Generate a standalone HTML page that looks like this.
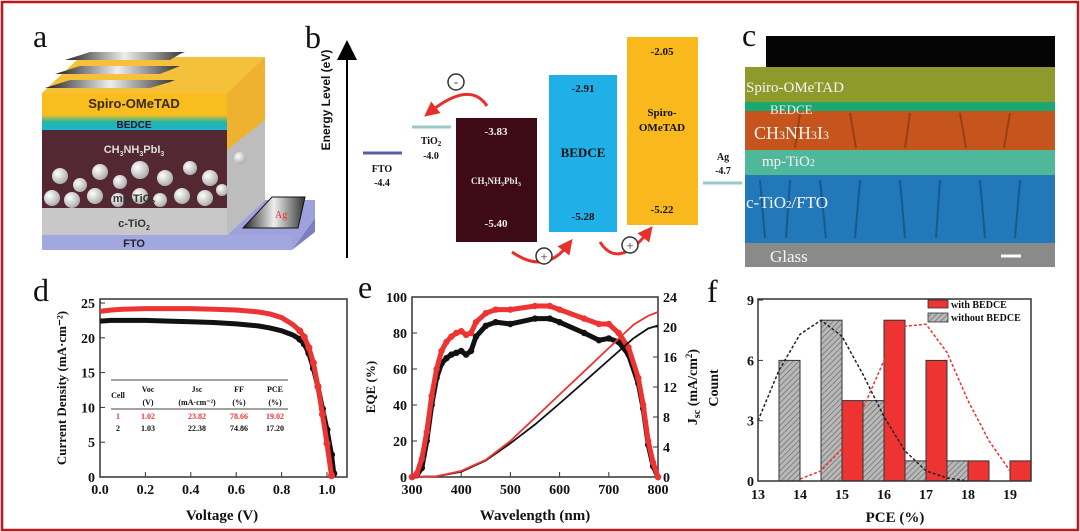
<!DOCTYPE html>
<html><head><meta charset="utf-8"><style>
html,body{margin:0;padding:0;background:#fff;width:1080px;height:532px;overflow:hidden}
svg{display:block}
.t{font-family:"Liberation Serif",serif;font-weight:bold;fill:#111}
.s{font-family:"Liberation Sans",sans-serif;font-weight:bold}
.w{fill:#eee}
</style></head><body>
<svg id="fig" width="1080" height="532" viewBox="0 0 1080 532" xmlns="http://www.w3.org/2000/svg">
<defs>
<pattern id="hatch" width="4" height="4" patternUnits="userSpaceOnUse" patternTransform="rotate(45)"><rect width="4" height="4" fill="#b8b8b8"/><line x1="0" y1="0" x2="0" y2="4" stroke="#666" stroke-width="1.3"/></pattern>
<radialGradient id="ball" cx="0.35" cy="0.35" r="0.7"><stop offset="0" stop-color="#fff"/><stop offset="1" stop-color="#aaa"/></radialGradient>
<linearGradient id="elec" x1="0" x2="1"><stop offset="0" stop-color="#222"/><stop offset="0.5" stop-color="#eee"/><stop offset="1" stop-color="#333"/></linearGradient>
<linearGradient id="bedce" x1="0" y1="0" x2="0" y2="1"><stop offset="0" stop-color="#f5c020"/><stop offset="0.45" stop-color="#2ab5a0"/><stop offset="1" stop-color="#14b8d8"/></linearGradient>
<marker id="ah" markerWidth="5" markerHeight="5" refX="2.5" refY="2.5" orient="auto"><path d="M0,0 L5,2.5 L0,5 z" fill="#e8302a"/></marker>
<marker id="ahk" markerWidth="10" markerHeight="10" refX="5" refY="5" orient="auto"><path d="M0,0 L10,5 L0,10 z" fill="#000"/></marker>
</defs>
<rect x="2" y="2" width="1076" height="528" fill="#fff" stroke="#c0161c" stroke-width="2.5"/>

<!-- Panel a -->
<g>
<text x="33" y="47" class="t" style="font-weight:normal;font-size:32px">a</text>
<polygon points="42,235 227,235 265,200 315,200 315,218 292,250 42,250" fill="#9ea2dc"/>
<rect x="42" y="235" width="250" height="15" fill="#a3a7e0"/>
<polygon points="292,250 315,218 315,232 292,250" fill="#7b7fc0"/>
<polygon points="227,93 265,57 265,200 227,235" fill="#bdbdbd"/>
<polygon points="227,93 265,57 265,120 227,150" fill="#efb130"/>
<polygon points="42,93 80,57 265,57 227,93" fill="#f6c13a"/>
<rect x="42" y="93" width="185" height="22" fill="#f9bd1d"/>
<rect x="42" y="115" width="185" height="15" fill="url(#bedce)"/>
<rect x="42" y="130" width="185" height="78" fill="#532832"/>
<rect x="42" y="208" width="185" height="27" fill="#c8c8c8"/>
<g fill="url(#ball)">
<circle cx="60" cy="176" r="8"/><circle cx="80" cy="185" r="7"/><circle cx="100" cy="172" r="8"/><circle cx="120" cy="182" r="7"/><circle cx="140" cy="170" r="9"/><circle cx="165" cy="178" r="8"/><circle cx="190" cy="168" r="7"/><circle cx="210" cy="178" r="8"/><circle cx="240" cy="158" r="6"/>
<circle cx="52" cy="198" r="8"/><circle cx="72" cy="200" r="8"/><circle cx="95" cy="196" r="8"/><circle cx="118" cy="200" r="7"/><circle cx="140" cy="196" r="8"/><circle cx="160" cy="200" r="7"/><circle cx="182" cy="196" r="8"/><circle cx="205" cy="198" r="8"/><circle cx="222" cy="190" r="6"/>
</g>
<polygon points="45,88 150,88 170,82 175,80 70,80" fill="url(#elec)"/>
<polygon points="55,74 160,74 175,68 180,66 80,66" fill="url(#elec)"/>
<polygon points="65,60 170,60 180,54 185,52 90,52" fill="url(#elec)"/>
<polygon points="243,228 298,228 305,197 272,197" fill="url(#elec)" stroke="#111"/>
<text x="275" y="218" font-family="Liberation Serif" font-size="10" fill="#e33">Ag</text>
<text x="134" y="108" text-anchor="middle" class="s" font-size="13" fill="#3a2a10">Spiro-OMeTAD</text>
<text x="134" y="128" text-anchor="middle" class="s" font-size="10" fill="#213">BEDCE</text>
<text x="134" y="153" text-anchor="middle" class="s" font-size="11" fill="#ddd">CH<tspan font-size="7" dy="3">3</tspan><tspan dy="-3">NH</tspan><tspan font-size="7" dy="3">3</tspan><tspan dy="-3">PbI</tspan><tspan font-size="7" dy="3">3</tspan></text>
<text x="134" y="202" text-anchor="middle" class="s" font-size="11" fill="#333">mp-TiO<tspan font-size="7" dy="3">2</tspan></text>
<text x="134" y="227" text-anchor="middle" class="s" font-size="11" fill="#333">c-TiO<tspan font-size="7" dy="3">2</tspan></text>
<text x="134" y="247" text-anchor="middle" class="s" font-size="11" fill="#223">FTO</text>
</g>

<!-- Panel b -->
<g>
<text x="305" y="48" class="t" style="font-weight:normal;font-size:32px">b</text>
<line x1="347" y1="258" x2="347" y2="50" stroke="#000" stroke-width="2" marker-end="url(#ahk)"/>
<text transform="translate(330,100) rotate(-90)" text-anchor="middle" class="s" font-size="12" fill="#111">Energy Level (eV)</text>
<line x1="363" y1="153" x2="402" y2="153" stroke="#5b5ea6" stroke-width="3"/>
<text x="382" y="172" text-anchor="middle" class="t" font-size="10">FTO</text><text x="382" y="186" text-anchor="middle" class="t" font-size="10">-4.4</text>
<line x1="412" y1="127" x2="451" y2="127" stroke="#9cc7c7" stroke-width="3"/>
<text x="431" y="144" text-anchor="middle" class="t" font-size="10">TiO<tspan font-size="7" dy="2">2</tspan></text><text x="431" y="159" text-anchor="middle" class="t" font-size="10">-4.0</text>
<rect x="456" y="118" width="81" height="124" fill="#3d0a15"/>
<text x="496" y="135" text-anchor="middle" class="t w" font-size="11">-3.83</text>
<text x="496" y="184" text-anchor="middle" class="t w" font-size="9">CH<tspan font-size="6" dy="2">3</tspan><tspan dy="-2">NH</tspan><tspan font-size="6" dy="2">3</tspan><tspan dy="-2">PbI</tspan><tspan font-size="6" dy="2">3</tspan></text>
<text x="496" y="227" text-anchor="middle" class="t w" font-size="11">-5.40</text>
<rect x="549" y="75" width="68" height="157" fill="#1fb0e8"/>
<text x="583" y="92" text-anchor="middle" class="t" font-size="11">-2.91</text>
<text x="583" y="157" text-anchor="middle" class="t" font-size="13" fill="#132">BEDCE</text>
<text x="583" y="220" text-anchor="middle" class="t" font-size="11">-5.28</text>
<rect x="627" y="37" width="71" height="188" fill="#f9b81b"/>
<text x="662" y="55" text-anchor="middle" class="t" font-size="11">-2.05</text>
<text x="662" y="116" text-anchor="middle" class="t" font-size="11">Spiro-</text><text x="662" y="131" text-anchor="middle" class="t" font-size="11">OMeTAD</text>
<text x="662" y="213" text-anchor="middle" class="t" font-size="11">-5.22</text>
<line x1="703" y1="183" x2="742" y2="183" stroke="#9cc7c7" stroke-width="3"/>
<text x="723" y="160" text-anchor="middle" class="t" font-size="10">Ag</text><text x="723" y="174" text-anchor="middle" class="t" font-size="10">-4.7</text>
<path d="M487,106 Q470,80 430,112" fill="none" stroke="#e8302a" stroke-width="3" marker-end="url(#ah)"/>
<circle cx="456" cy="82" r="8" fill="#fff" stroke="#333" stroke-width="1.5"/><text x="456" y="86" text-anchor="middle" font-size="12" font-weight="bold" fill="#333">-</text>
<path d="M512,252 Q545,275 568,245" fill="none" stroke="#e8302a" stroke-width="3" marker-end="url(#ah)"/>
<circle cx="544" cy="256" r="8" fill="#fff" stroke="#333" stroke-width="1.5"/><text x="544" y="261" text-anchor="middle" font-size="13" fill="#333">+</text>
<path d="M600,242 Q618,270 648,232" fill="none" stroke="#e8302a" stroke-width="3" marker-end="url(#ah)"/>
<circle cx="630" cy="245" r="8" fill="#fff" stroke="#333" stroke-width="1.5"/><text x="630" y="250" text-anchor="middle" font-size="13" fill="#333">+</text>
</g>

<!-- Panel c -->
<g>
<rect x="766" y="36" width="289" height="31" fill="#050505"/>
<rect x="745" y="67" width="310" height="37" fill="#8f9a2c"/>
<rect x="745" y="102" width="310" height="9" fill="#1ba870"/>
<rect x="745" y="111" width="310" height="40" fill="#c5551c"/>
<rect x="745" y="150" width="310" height="26" fill="#4fb89a"/>
<rect x="745" y="175" width="310" height="68" fill="#2278b8"/>
<rect x="745" y="243" width="310" height="24" fill="#8a8a8a"/>
<g stroke="#0d3e6a" stroke-width="2" opacity="0.5"><line x1="760" y1="180" x2="765" y2="238"/><line x1="790" y1="180" x2="786" y2="238"/><line x1="820" y1="180" x2="826" y2="238"/><line x1="860" y1="180" x2="855" y2="238"/><line x1="900" y1="180" x2="905" y2="238"/><line x1="940" y1="180" x2="936" y2="238"/><line x1="980" y1="180" x2="985" y2="238"/><line x1="1020" y1="180" x2="1015" y2="238"/></g>
<g stroke="#6a2a0a" stroke-width="2" opacity="0.5"><line x1="800" y1="113" x2="795" y2="148"/><line x1="850" y1="113" x2="856" y2="148"/><line x1="910" y1="113" x2="905" y2="148"/><line x1="960" y1="113" x2="966" y2="148"/><line x1="1010" y1="113" x2="1004" y2="148"/></g>
<g font-family="Liberation Serif" fill="#f4f4f4">
<text x="746" y="92" font-size="15">Spiro-OMeTAD</text>
<text x="770" y="114" font-size="13">BEDCE</text>
<text x="754" y="139" font-size="18">CH<tspan font-size="12">3</tspan>NH<tspan font-size="12">3</tspan>I<tspan font-size="12">3</tspan></text>
<text x="762" y="166" font-size="15">mp-TiO<tspan font-size="10">2</tspan></text>
<text x="746" y="208" font-size="17">c-TiO<tspan font-size="11">2</tspan>/FTO</text>
<text x="770" y="262" font-size="17">Glass</text>
</g>
<line x1="1001" y1="256" x2="1021" y2="256" stroke="#fff" stroke-width="3"/>
<text x="742" y="46" class="t" style="font-weight:normal;font-size:32px">c</text>
</g>

<text x="33" y="301" class="t" style="font-weight:normal;font-size:32px">d</text>
<text x="358" y="298" class="t" style="font-weight:normal;font-size:32px">e</text>
<text x="707" y="302" class="t" style="font-weight:normal;font-size:32px">f</text>
<g id="pd"></g>
<g id="pe"></g>
<g id="pf"></g>
</svg>
<script>
// Panel d data
const dV = [0,0.05,0.1,0.2,0.3,0.4,0.5,0.6,0.7,0.75,0.8,0.85,0.88,0.9,0.92,0.94,0.96,0.98,1.0,1.02];
const dJRed = [23.8,24.0,24.1,24.2,24.2,24.2,24.1,24.0,23.7,23.4,22.9,21.9,21.0,20.1,18.6,16.4,13.0,9.0,4.8,0.2];
const dVBlk = [0,0.05,0.1,0.2,0.3,0.4,0.5,0.6,0.7,0.75,0.8,0.85,0.88,0.9,0.92,0.94,0.96,0.98,1.0,1.02,1.03];
const dJBlk = [22.4,22.5,22.5,22.5,22.4,22.3,22.2,22.0,21.7,21.4,21.0,20.4,19.8,19.1,17.8,15.6,13.0,9.8,6.8,3.2,0.5];
const dXTicks = [0,0.2,0.4,0.6,0.8,1.0];
const dXLabels = ["0.0","0.2","0.4","0.6","0.8","1.0"];
const dYTicks = [0,5,10,15,20,25];
// Panel e data
const eW = [300,310,320,330,340,350,360,370,380,390,400,410,420,430,450,470,500,550,580,600,650,680,700,720,740,760,770,780,790,800];
const eRed = [0,2,10,25,45,60,70,75,78,80,81,79,80,86,91,93,93,95,95,93,88,85,85,80,72,55,40,20,8,0];
const eBlk = [0,1,5,20,40,55,63,66,68,69,70,68,70,78,84,86,85,88,88,86,80,76,77,75,68,52,38,18,6,0];
const eJW = [300,350,400,450,500,550,600,650,700,750,780,800];
const eJRed = [0,0.1,0.8,2.3,4.8,7.9,11.0,14.1,17.2,20.3,21.5,22.0];
const eJBlk = [0,0.1,0.7,2.2,4.5,7.0,9.8,12.7,15.6,18.5,19.8,20.2];
const eXTicks = [300,400,500,600,700,800];
const eYTicks = [0,20,40,60,80,100];
const eY2Ticks = [0,4,8,12,16,20,24];
// Panel f data
const fBinsWithout = [13.5,14.5,15.5,16.5,17.5];
const fCountWithout = [6,8,4,1,1];
const fBinsWith = [15,16,17,18,19];
const fCountWith = [4,8,6,1,1];
const fFitXBlk = [13,13.5,14,14.5,15,15.5,16,16.5,17,17.5,18];
const fFitYBlk = [3,5.5,7.3,8,7.2,5.3,3.2,1.5,0.5,0.15,0];
const fFitXRed = [14,14.5,15,15.5,16,16.5,17,17.5,18,18.5,19];
const fFitYRed = [0.1,0.5,1.6,3.6,6.0,7.7,7.8,6.4,4.0,2.0,0.5];
const fXTicks = [13,14,15,16,17,18,19];
const fYTicks = [0,3,6,9];

const NS="http://www.w3.org/2000/svg";
function mk(parent,tag,attrs,text){const e=document.createElementNS(NS,tag);for(const k in attrs)e.setAttribute(k,attrs[k]);if(text!==undefined)e.textContent=text;parent.appendChild(e);return e;}
function pts(xs,ys,fx,fy){return xs.map((x,i)=>fx(x).toFixed(1)+","+fy(ys[i]).toFixed(1)).join(" ");}

// ---- Panel d
const xD=v=>100+v*227, yD=j=>477-j*6.96;
const gd=document.getElementById('pd');
let el;
el=mk(gd,'rect',{x:100,y:299,width:247,height:178,fill:'none',stroke:'#333','stroke-width':1.5});


dXTicks.forEach((t,i)=>{mk(gd,'line',{x1:xD(t),x2:xD(t),y1:477,y2:472,stroke:'#333'});
 el=mk(gd,'text',{x:xD(t),y:494,'text-anchor':'middle',class:'t','font-size':14},dXLabels[i]);
 
 });
dYTicks.forEach(t=>{mk(gd,'line',{x1:100,x2:105,y1:yD(t),y2:yD(t),stroke:'#333'});
 el=mk(gd,'text',{x:95,y:yD(t)+5,'text-anchor':'end',class:'t','font-size':14},t);
 
 });
el=mk(gd,'text',{x:222,y:520,'text-anchor':'middle',class:'t','font-size':15},'Voltage (V)');


el=mk(gd,'text',{transform:'translate(66,388) rotate(-90)','text-anchor':'middle',class:'t','font-size':13},'Current Density (mA·cm⁻²)');


el=mk(gd,'polyline',{points:pts(dVBlk,dJBlk,xD,yD),fill:'none',stroke:'#111','stroke-width':5});


dVBlk.forEach((v,i)=>{if(v>0.85){el=mk(gd,'circle',{cx:xD(v),cy:yD(dJBlk[i]),r:3.5,fill:'#111'});
 
 }});
el=mk(gd,'polyline',{points:pts(dV,dJRed,xD,yD),fill:'none',stroke:'#ee3333','stroke-width':5});


dV.forEach((v,i)=>{if(v>0.85){el=mk(gd,'circle',{cx:xD(v),cy:yD(dJRed[i]),r:3.5,fill:'#ee3333'});
 
 }});
// table
const tb=mk(gd,'g',{});


mk(tb,'line',{x1:111,x2:288,y1:380,y2:380,stroke:'#444','stroke-width':1});
mk(tb,'line',{x1:111,x2:288,y1:409,y2:409,stroke:'#444','stroke-width':1});
const tcols=[118,148,197,239,275];
[['Cell',398],['Voc',392],['Jsc',392],['FF',392],['PCE',392]].forEach((h,i)=>mk(tb,'text',{x:tcols[i],y:h[1],'text-anchor':'middle',class:'t','font-size':8},h[0]));
['(V)','(mA·cm⁻²)','(%)','(%)'].forEach((h,i)=>mk(tb,'text',{x:tcols[i+1],y:405,'text-anchor':'middle',class:'t','font-size':8},h));
['1','1.02','23.82','78.66','19.02'].forEach((h,i)=>mk(tb,'text',{x:tcols[i],y:419,'text-anchor':'middle',class:'t','font-size':8,style:'fill:#e33'},h));
['2','1.03','22.38','74.86','17.20'].forEach((h,i)=>mk(tb,'text',{x:tcols[i],y:431,'text-anchor':'middle',class:'t','font-size':8},h));

// ---- Panel e
const xE=w=>412+(w-300)*0.492, yE=q=>477-q*1.8, yJ=j=>477-j*7.5;
const ge=document.getElementById('pe');
el=mk(ge,'rect',{x:412,y:297,width:246,height:180,fill:'none',stroke:'#333','stroke-width':1.5});


eXTicks.forEach(t=>{mk(ge,'line',{x1:xE(t),x2:xE(t),y1:477,y2:472,stroke:'#333'});
 el=mk(ge,'text',{x:xE(t),y:494,'text-anchor':'middle',class:'t','font-size':14},t);
 
 });
eYTicks.forEach(t=>{mk(ge,'line',{x1:412,x2:417,y1:yE(t),y2:yE(t),stroke:'#333'});
 el=mk(ge,'text',{x:407,y:yE(t)+5,'text-anchor':'end',class:'t','font-size':14},t);
 
 });
eY2Ticks.forEach(t=>{mk(ge,'line',{x1:658,x2:653,y1:yJ(t),y2:yJ(t),stroke:'#333'});
 el=mk(ge,'text',{x:663,y:yJ(t)+5,'text-anchor':'start',class:'t','font-size':14},t);
 
 });
el=mk(ge,'text',{x:535,y:520,'text-anchor':'middle',class:'t','font-size':15},'Wavelength (nm)');


el=mk(ge,'text',{transform:'translate(375,387) rotate(-90)','text-anchor':'middle',class:'t','font-size':13},'EQE (%)');


el=mk(ge,'text',{transform:'translate(697,387) rotate(-90)','text-anchor':'middle',class:'t','font-size':14},'J');


el.innerHTML='J<tspan font-size="10" dy="3">sc</tspan><tspan dy="-3"> (mA/cm</tspan><tspan font-size="9" dy="-5">2</tspan><tspan dy="5">)</tspan>';
[[eBlk,'#111','e-eqe-black'],[eRed,'#ee3333','e-eqe-red']].forEach(s=>{
 el=mk(ge,'polyline',{points:pts(eW,s[0],xE,yE),fill:'none',stroke:s[1],'stroke-width':5});
 
 
 eW.forEach((w,i)=>{el=mk(ge,'circle',{cx:xE(w),cy:yE(s[0][i]),r:3.2,fill:s[1]});
  
  });
});
el=mk(ge,'polyline',{points:pts(eJW,eJBlk,xE,yJ),fill:'none',stroke:'#111','stroke-width':1.8});


el=mk(ge,'polyline',{points:pts(eJW,eJRed,xE,yJ),fill:'none',stroke:'#e33','stroke-width':1.8});



// ---- Panel f
const xF=p=>758+(p-13)*42, yF=c=>481-c*20.1;
const gf=document.getElementById('pf');
fBinsWithout.forEach((b,i)=>{el=mk(gf,'rect',{x:xF(b),y:yF(fCountWithout[i]),width:21,height:481-yF(fCountWithout[i]),fill:'url(#hatch)',stroke:'#333','stroke-width':1});
 
 });
fBinsWith.forEach((b,i)=>{el=mk(gf,'rect',{x:xF(b),y:yF(fCountWith[i]),width:21,height:481-yF(fCountWith[i]),fill:'#ee3333',stroke:'#333','stroke-width':1});
 
 });
el=mk(gf,'polyline',{points:pts(fFitXBlk,fFitYBlk,xF,yF),fill:'none',stroke:'#222','stroke-width':1.5,'stroke-dasharray':'3,2'});


el=mk(gf,'polyline',{points:pts(fFitXRed,fFitYRed,xF,yF),fill:'none',stroke:'#e33','stroke-width':1.5,'stroke-dasharray':'3,2'});


el=mk(gf,'rect',{x:758,y:299,width:273,height:182,fill:'none',stroke:'#333','stroke-width':1.5});


fXTicks.forEach(t=>{mk(gf,'line',{x1:xF(t),x2:xF(t),y1:481,y2:476,stroke:'#333'});
 el=mk(gf,'text',{x:xF(t),y:499,'text-anchor':'middle',class:'t','font-size':14},t);
 
 });
fYTicks.forEach(t=>{mk(gf,'line',{x1:758,x2:763,y1:yF(t),y2:yF(t),stroke:'#333'});
 el=mk(gf,'text',{x:754,y:yF(t)+5,'text-anchor':'end',class:'t','font-size':14},t);
 
 });
el=mk(gf,'text',{x:895,y:522,'text-anchor':'middle',class:'t','font-size':15},'PCE (%)');


el=mk(gf,'text',{transform:'translate(718,388) rotate(-90)','text-anchor':'middle',class:'t','font-size':14},'Count');


el=mk(gf,'rect',{x:928,y:300,width:20,height:8,fill:'#ee3333',stroke:'#333','stroke-width':0.8});


el=mk(gf,'text',{x:951,y:308,class:'t','font-size':10},'with BEDCE');


el=mk(gf,'rect',{x:928,y:313,width:20,height:9,fill:'url(#hatch)',stroke:'#333','stroke-width':0.8});


el=mk(gf,'text',{x:951,y:321,class:'t','font-size':10},'without BEDCE');


</script>
</body></html>
